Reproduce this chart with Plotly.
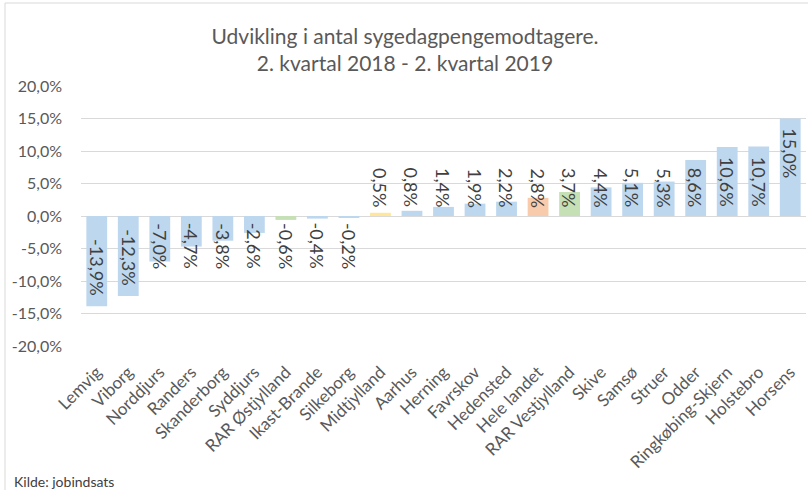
import plotly.graph_objects as go

categories = ["Lemvig", "Viborg", "Norddjurs", "Randers", "Skanderborg", "Syddjurs",
              "RAR Østjylland", "Ikast-Brande", "Silkeborg", "Midtjylland", "Aarhus",
              "Herning", "Favrskov", "Hedensted", "Hele landet", "RAR Vestjylland",
              "Skive", "Samsø", "Struer", "Odder", "Ringkøbing-Skjern", "Holstebro", "Horsens"]
values = [-13.9, -12.3, -7.0, -4.7, -3.8, -2.6, -0.6, -0.4, -0.2, 0.5, 0.8, 1.4, 1.9,
          2.2, 2.8, 3.7, 4.4, 5.1, 5.3, 8.6, 10.6, 10.7, 15.0]
tick_vals = [-20, -15, -10, -5, 0, 5, 10, 15, 20]
tick_text = ["-20,0%", "-15,0%", "-10,0%", "-5,0%", "0,0%", "5,0%", "10,0%", "15,0%", "20,0%"]
title_lines = ["Udvikling i antal sygedagpengemodtagere.", "2. kvartal 2018 - 2. kvartal 2019"]
source_text = "Kilde: jobindsats"

BLUE = "#BDD7EE"
special = {"Midtjylland": "#FFE699", "Hele landet": "#F8CBAD",
           "RAR Vestjylland": "#C5E0B4", "RAR Østjylland": "#C5E0B4"}
colors = [special.get(c, BLUE) for c in categories]
labels = [f"{v:.1f}%".replace(".", ",") for v in values]

W, H = 808, 490
ML, MR, MT, MB = 81, 2, 86, 144
plot_w = W - ML - MR
plot_h = H - MT - MB
px_per_unit = plot_h / (tick_vals[-1] - tick_vals[0])
FONT = "Lato"
LBL_SIZE = 18
char_w = 9.8

fig = go.Figure(go.Bar(x=categories, y=values, marker_color=colors,
                       marker_line_width=0, hoverinfo="skip"))

annotations = []
for c, v, t in zip(categories, values, labels):
    L = char_w * len(t)
    pad = 9
    if abs(v) * px_per_unit - pad >= L + pad:
        if v > 0:
            y, ya, ys = v, "top", -pad
        else:
            y, ya, ys = v, "bottom", pad
    else:
        if v > 0:
            y, ya, ys = 0, "bottom", 8
        else:
            y, ya, ys = 0, "top", -6
    annotations.append(dict(x=c, y=y, xref="x", yref="y", text=t, textangle=90,
                            showarrow=False, yanchor=ya, xanchor="center", yshift=ys,
                            borderpad=0, font=dict(family=FONT, size=LBL_SIZE, color="#404040")))

annotations.append(dict(text=source_text, xref="paper", yref="paper",
                        x=(12 - ML) / plot_w, y=((H - MB) - 481) / plot_h,
                        xanchor="left", yanchor="middle",
                        showarrow=False, font=dict(family=FONT, size=14, color="#404040")))

fig.update_layout(
    width=W, height=H,
    margin=dict(l=ML, r=MR, t=MT, b=MB, autoexpand=False),
    paper_bgcolor="white", plot_bgcolor="white",
    separators=", ",
    bargap=0.34,
    showlegend=False,
    title=dict(text="<br>".join(title_lines), x=405 / W, xref="container", xanchor="center",
               y=1 - 44 / H, yref="container", yanchor="middle",
               font=dict(family=FONT, size=21, color="#595959")),
    font=dict(family=FONT, color="#595959"),
    xaxis=dict(tickangle=-45, tickfont=dict(size=17, color="#595959"), showgrid=False,
               showline=False, ticks="", automargin=False, ticklabelstandoff=12),
    yaxis=dict(range=[tick_vals[0], tick_vals[-1]], tickvals=tick_vals, ticktext=tick_text,
               gridcolor="#D9D9D9", gridwidth=1, zeroline=True, zerolinecolor="#D9D9D9",
               zerolinewidth=1, tickfont=dict(size=16, color="#595959"), ticks="",
               showline=False, ticklabelstandoff=18, automargin=False),
    annotations=annotations,
    shapes=[dict(type="rect", xref="paper", yref="paper",
                 x0=(5 - ML) / plot_w, x1=(W + 10 - ML) / plot_w,
                 y0=-(H + 10 - (H - MB)) / plot_h, y1=(H - MB - 3) / plot_h,
                 line=dict(color="#D9D9D9", width=1), layer="below")],
)

fig.write_html("out.html", config={"displayModeBar": False},
               post_script="document.body.style.margin='0';document.body.style.overflow='hidden';")
